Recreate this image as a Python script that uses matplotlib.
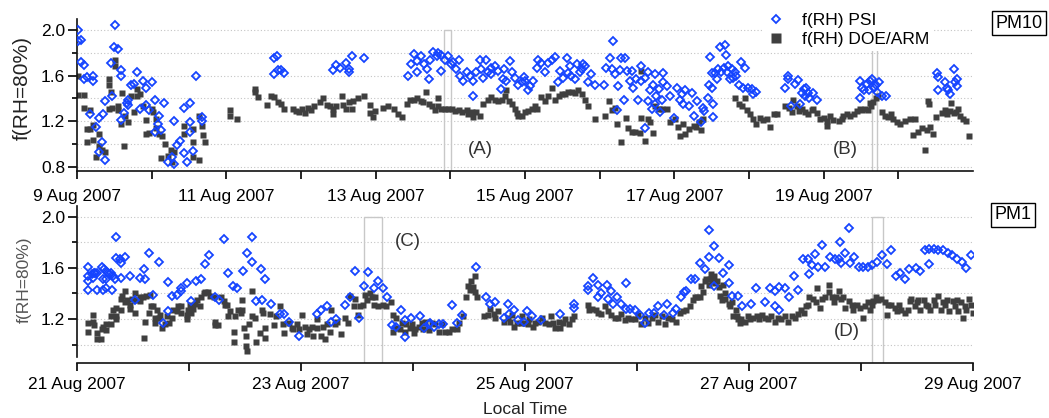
import numpy as np
import pandas as pd
import matplotlib
matplotlib.use("Agg")
import matplotlib.pyplot as plt
import matplotlib.dates as mdates
from matplotlib.lines import Line2D
from matplotlib.patches import Rectangle

plt.rcParams["font.family"] = ["Liberation Sans", "DejaVu Sans"]

# ---- PM10 panel, days after 9 Aug 2007 00:00 ----
pm10_start = pd.Timestamp("2007-08-09")

pm10_psi_day = [
    0.01, 0.01, 0.05, 0.05, 0.09, 0.09, 0.14, 0.22, 0.22, 0.18,
    0.26, 0.29, 0.35, 0.38, 0.34, 0.30, 0.38, 0.51, 0.50, 0.55,
    0.46, 0.47, 0.59, 0.59, 0.59, 0.63, 0.68, 0.68, 0.67, 0.72,
    0.76, 0.80, 0.84, 0.89, 0.93, 0.92, 0.97, 1.01, 1.05, 1.05,
    1.10, 1.09, 1.13, 1.17, 1.30, 1.34, 1.38, 1.43, 1.51, 1.51,
    1.51, 1.22, 1.27, 1.30, 1.43, 1.47, 1.55, 1.60, 1.68, 1.68,
    2.64, 2.68, 2.64, 2.69, 2.73, 2.77, 3.43, 3.47, 3.52, 3.60,
    3.64, 3.64, 3.68, 3.85,
    4.43, 4.47, 4.52, 4.56, 4.56, 4.61, 4.65, 4.69, 4.72, 4.73,
    4.77, 4.82, 4.84, 4.88, 4.88, 4.93, 4.97, 5.01, 5.04, 5.08,
    5.11, 5.13, 5.17, 5.22, 5.26, 5.31, 5.31, 5.35, 5.40, 5.41,
    5.44, 5.48, 5.51, 5.55, 5.60, 5.64, 5.68, 5.71, 5.75, 5.80,
    5.82, 5.87, 5.91, 5.96, 6.00, 6.04, 6.07, 6.11, 6.16, 6.18,
    6.22, 6.27, 6.31, 6.36, 6.40, 6.44, 6.47, 6.51, 6.56, 6.60,
    6.62, 6.67, 6.69, 6.74, 6.78, 6.81, 6.85, 6.89, 6.94, 5.55,
    5.72, 5.98, 6.58, 6.76,
    7.06, 7.09, 7.14, 7.18, 7.17, 7.21, 7.25, 7.27, 7.29, 7.32,
    7.34, 7.36, 7.41, 7.43, 7.44, 7.48, 7.52, 7.56, 7.56, 7.61,
    7.65, 7.65, 7.67, 7.70, 7.61, 7.72, 7.74, 7.74, 7.76, 7.79,
    7.81, 7.83, 7.85, 7.85, 7.90, 7.94, 7.99, 7.23,
    8.03, 8.08, 8.10, 8.14, 8.11, 8.19, 8.23, 8.27, 8.31, 8.36,
    8.39, 8.40, 8.45, 8.47, 8.48, 8.50, 8.51, 8.52, 8.52, 8.54,
    8.57, 8.59, 8.61, 8.63, 8.66, 8.68, 8.69, 8.70, 8.72, 8.75,
    8.77, 8.79, 8.81, 8.83, 8.86, 8.89, 8.92, 8.94, 8.99, 9.04,
    9.06, 9.10,
    9.48, 9.52, 9.52, 9.56, 9.61, 9.65, 9.68, 9.71, 9.73, 9.75,
    9.77, 9.79, 9.81, 9.86, 9.91,
    10.49, 10.49, 10.51, 10.54, 10.58, 10.61, 10.62, 10.65, 10.68, 10.70,
    10.74, 10.71, 10.78, 10.83,
    11.52, 11.53, 11.53, 11.62, 11.65, 11.66, 11.69, 11.74, 11.76, 11.78,
    11.78,
]
pm10_psi_val = [
    2.00, 1.90, 1.91, 1.72, 1.69, 1.57, 1.59, 1.60, 1.55, 1.26,
    1.15, 1.23, 1.26, 1.38, 1.02, 0.93, 0.86, 2.04, 1.85, 1.83,
    1.71, 1.42, 1.65, 1.60, 1.21, 1.27, 1.39, 1.34, 1.36, 1.52,
    1.53, 1.63, 1.31, 1.55, 1.49, 1.34, 1.30, 1.54, 1.39, 1.11,
    1.25, 1.18, 1.12, 1.36, 1.20, 0.99, 1.03, 1.32, 1.36, 1.19,
    1.11, 0.84, 0.89, 0.83, 0.92, 0.84, 0.94, 1.60, 1.24, 1.20,
    1.75, 1.77, 1.61, 1.65, 1.65, 1.62, 1.65, 1.69, 1.67, 1.71,
    1.66, 1.63, 1.77, 1.75,
    1.60, 1.70, 1.79, 1.73, 1.63, 1.77, 1.70, 1.66, 1.57, 1.74,
    1.81, 1.77, 1.80, 1.78, 1.64, 1.74, 1.77, 1.70, 1.72, 1.66,
    1.74, 1.60, 1.55, 1.63, 1.60, 1.55, 1.42, 1.63, 1.74, 1.66,
    1.58, 1.74, 1.63, 1.61, 1.68, 1.64, 1.48, 1.57, 1.55, 1.73,
    1.63, 1.58, 1.52, 1.54, 1.55, 1.47, 1.51, 1.55, 1.67, 1.74,
    1.71, 1.63, 1.71, 1.74, 1.76, 1.54, 1.64, 1.58, 1.75, 1.68,
    1.60, 1.57, 1.70, 1.63, 1.70, 1.68, 1.54, 1.61, 1.52, 1.67,
    1.66, 1.59, 1.62, 1.66,
    1.52, 1.67, 1.75, 1.90, 1.66, 1.61, 1.51, 1.65, 1.75, 1.39,
    1.75, 1.64, 1.55, 1.64, 1.49, 1.57, 1.39, 1.68, 1.55, 1.58,
    1.63, 1.38, 1.47, 1.31, 1.14, 1.52, 1.61, 1.35, 1.42, 1.48,
    1.28, 1.39, 1.62, 1.54, 1.51, 1.42, 1.23, 1.30,
    1.49, 1.39, 1.44, 1.47, 1.35, 1.33, 1.45, 1.25, 1.38, 1.19,
    1.32, 1.29, 1.40, 1.52, 1.76, 1.62, 1.49, 1.35, 1.24, 1.62,
    1.57, 1.66, 1.85, 1.63, 1.67, 1.87, 1.78, 1.63, 1.68, 1.57,
    1.66, 1.58, 1.63, 1.60, 1.52, 1.72, 1.49, 1.67, 1.49, 1.48,
    1.44, 1.46,
    1.49, 1.60, 1.57, 1.33, 1.53, 1.56, 1.35, 1.45, 1.48, 1.42,
    1.49, 1.45, 1.40, 1.45, 1.39,
    1.55, 1.40, 1.49, 1.47, 1.53, 1.47, 1.55, 1.57, 1.49, 1.52,
    1.54, 1.46, 1.42, 1.42,
    1.62, 1.59, 1.47, 1.54, 1.49, 1.47, 1.44, 1.66, 1.54, 1.57,
    1.51,
]

pm10_doe_day = [
    0.01, 0.01, 0.09, 0.09, 0.18, 0.13, 0.18, 0.13, 0.22, 0.22,
    0.26, 0.30, 0.30, 0.34, 0.38, 0.43, 0.43, 0.46, 0.43, 0.47,
    0.51, 0.51, 0.55, 0.55, 0.60, 0.59, 0.63, 0.64, 0.68,
    0.72, 0.76, 0.80, 0.81, 0.85, 0.89, 0.93, 0.92, 0.96, 1.01,
    1.02, 1.06, 1.06, 1.10, 1.14, 1.18, 1.13, 1.22, 1.27, 1.26,
    1.30, 1.43, 1.43, 1.56, 1.56, 1.56, 1.64, 1.68, 1.69, 1.64,
    1.72,
    2.05, 2.05, 2.14,
    2.39, 2.39, 2.43, 2.55, 2.60, 2.64, 2.69, 2.73, 2.77, 2.89,
    2.93, 2.97, 3.01, 3.05, 3.10, 3.14, 3.18, 3.26, 3.30, 3.35,
    3.39, 3.43, 3.43, 3.47, 3.55, 3.56, 3.60, 3.64, 3.68, 3.69,
    3.77, 3.85, 3.93, 3.93, 3.97,
    3.99, 4.10, 4.17, 4.24, 4.30, 4.35, 4.42, 4.46, 4.52, 4.56,
    4.61, 4.64, 4.68, 4.71, 4.75, 4.79, 4.84, 4.84, 4.88, 4.93,
    4.97, 5.02, 5.06, 5.11, 5.15, 5.22, 5.24, 5.29, 5.31, 5.35,
    5.40, 5.44, 5.51, 5.55, 5.60, 5.64, 5.69, 5.73, 5.75, 5.78,
    5.82, 5.86, 5.89, 5.91, 5.96, 6.00, 6.04, 6.09, 6.13, 6.16,
    6.22, 6.27, 6.31, 6.36, 6.40, 6.45, 6.49, 6.54, 6.58, 6.63,
    6.67, 6.71, 6.76, 6.80, 6.85, 6.94, 7.07, 7.12, 7.16, 7.21,
    7.23, 7.29, 7.35, 7.38, 7.43, 7.47, 7.54, 7.56, 7.56, 7.61,
    7.65, 7.67, 7.72, 7.74, 7.79, 7.83, 7.90, 7.94,
    8.01, 8.05, 8.08, 8.12, 8.14, 8.20, 8.26, 8.29, 8.33, 8.36,
    8.39, 8.81, 8.86, 8.90, 8.95, 8.97, 9.01, 9.06, 9.10, 9.15,
    9.19, 9.24, 9.28, 9.33, 9.37, 9.48, 9.53, 9.57, 9.59, 9.64,
    9.67, 9.71, 9.75, 9.79, 9.84, 9.86, 9.91, 9.95, 10.00, 10.04,
    10.04, 10.08, 10.13, 10.20, 10.24, 10.26, 10.31, 10.35, 10.40, 10.44,
    10.49, 10.51, 10.55, 10.59, 10.62, 10.64, 10.66, 10.70, 10.73, 10.78,
    10.82, 10.86, 10.90, 10.93, 10.98, 11.02, 11.09, 11.16, 11.19, 11.22,
    11.27, 11.32, 11.36, 11.39, 11.42, 11.47, 11.40, 11.41, 11.51, 11.58,
    11.63, 11.65, 11.69, 11.71, 11.74, 11.77, 11.80, 11.82, 11.86, 11.90,
    11.94,
]
pm10_doe_val = [
    1.60, 1.43, 1.43, 1.32, 1.30, 1.13, 1.13, 1.02, 1.04, 1.17,
    0.89, 1.09, 0.98, 0.95, 0.93, 1.57, 1.52, 1.46, 1.31, 1.32,
    1.74, 1.68, 1.33, 1.30, 1.45, 1.18, 0.98, 1.25, 1.19,
    1.42, 1.28, 1.48, 1.42, 1.44, 1.33, 1.21, 1.09, 1.10, 1.31,
    1.28, 1.22, 1.14, 1.09, 1.07, 1.00, 0.88, 0.90, 0.84, 0.95,
    0.93, 1.16, 1.09, 1.13, 1.02, 0.89, 0.86, 1.16, 1.08, 1.25,
    1.02,
    1.30, 1.25, 1.22,
    1.48, 1.46, 1.41, 1.34, 1.42, 1.41, 1.37, 1.35, 1.31, 1.31,
    1.29, 1.28, 1.31, 1.27, 1.32, 1.30, 1.33, 1.37, 1.40, 1.34,
    1.33, 1.31, 1.26, 1.33, 1.42, 1.34, 1.31, 1.37, 1.31, 1.38,
    1.40, 1.42, 1.34, 1.27, 1.24,
    1.29, 1.32, 1.33, 1.31, 1.26, 1.24, 1.35, 1.39, 1.39, 1.40,
    1.38, 1.37, 1.46, 1.35, 1.33, 1.30, 1.40, 1.33, 1.31, 1.31,
    1.31, 1.31, 1.29, 1.30, 1.28, 1.30, 1.26, 1.28, 1.24, 1.28,
    1.25, 1.35, 1.39, 1.41, 1.39, 1.38, 1.39, 1.42, 1.47, 1.38,
    1.35, 1.31, 1.27, 1.25, 1.25, 1.28, 1.29, 1.31, 1.33, 1.31,
    1.41, 1.38, 1.42, 1.49, 1.39, 1.42, 1.44, 1.44, 1.46, 1.46,
    1.45, 1.47, 1.44, 1.39, 1.33, 1.22, 1.25, 1.38, 1.30, 1.32,
    1.18, 1.02, 1.23, 1.14, 1.11, 1.11, 1.10, 1.23, 1.64, 1.03,
    1.22, 1.19, 1.10, 1.33, 1.31, 1.31, 1.31, 1.19,
    1.22, 1.15, 1.07, 1.18, 1.09, 1.13, 1.16, 1.15, 1.19, 1.12,
    1.22, 1.40, 1.35, 1.33, 1.40, 1.30, 1.26, 1.22, 1.18, 1.23,
    1.21, 1.22, 1.15, 1.26, 1.26, 1.33, 1.32, 1.28, 1.39, 1.33,
    1.29, 1.31, 1.28, 1.26, 1.30, 1.31, 1.27, 1.22, 1.23, 1.20,
    1.16, 1.25, 1.21, 1.20, 1.22, 1.25, 1.26, 1.25, 1.26, 1.29,
    1.31, 1.30, 1.31, 1.30, 1.36, 1.33, 1.37, 1.40, 1.42, 1.28,
    1.25, 1.24, 1.26, 1.22, 1.19, 1.18, 1.20, 1.22, 1.08, 1.22,
    1.11, 1.14, 0.95, 1.12, 1.15, 1.09, 1.38, 1.35, 1.24, 1.27,
    1.30, 1.26, 1.29, 1.36, 1.27, 1.28, 1.31, 1.25, 1.22, 1.20,
    1.07,
]

# ---- PM1 panel, days after 21 Aug 2007 00:00 ----
pm1_start = pd.Timestamp("2007-08-21")

pm1_psi_day = [
    0.10, 0.10, 0.10, 0.10, 0.13, 0.14, 0.15, 0.16, 0.18, 0.18,
    0.22, 0.23, 0.23, 0.24, 0.26, 0.26, 0.27, 0.29, 0.30, 0.31,
    0.32, 0.35, 0.35, 0.34, 0.38, 0.39, 0.39, 0.43, 0.47, 0.52,
    0.56, 0.60, 0.61, 0.64, 0.68, 0.73, 0.77, 0.81, 0.81, 0.85,
    0.89, 0.93, 0.93, 0.98, 1.02, 1.06, 1.11, 1.14, 1.18, 1.23,
    1.27, 1.31, 1.35, 1.39, 1.43, 1.48, 1.52, 1.56, 1.56, 1.60,
    1.65, 1.64, 1.68, 1.73, 1.81, 1.85, 1.89, 1.98, 2.14, 2.18,
    2.23, 2.27, 2.31, 2.39, 2.44, 2.48, 2.52, 2.56, 2.60, 2.65,
    2.69, 2.73, 2.77, 2.81, 2.85, 2.89, 2.93, 2.93, 2.98, 3.06,
    3.10, 3.14, 3.15, 3.19, 3.23, 3.27, 3.35, 3.39, 3.44, 3.56,
    3.65, 3.69, 3.73, 3.81, 3.85, 3.86, 3.90, 3.94, 3.99, 4.02,
    4.06, 4.14, 4.31, 4.44, 4.44, 4.56, 4.56, 4.61, 4.65, 4.65,
    4.68, 4.73, 4.74, 4.77, 4.79, 4.82, 4.86, 4.90, 4.90, 4.94,
    4.98, 5.03, 5.07, 5.11, 5.15, 5.19, 5.24, 5.27, 5.32,
    5.35, 5.39, 5.42, 5.44, 5.48, 5.52, 5.56, 5.61, 5.64, 5.64,
    5.69, 5.69, 5.73, 5.77, 5.82, 5.82, 5.85, 5.90, 5.94, 6.02,
    6.06, 6.14, 6.19, 6.23, 6.27, 6.23, 6.27, 6.32, 6.36, 6.40,
    6.44, 6.48, 6.53, 6.54, 6.56, 6.59, 6.62, 6.65, 6.68, 6.72,
    6.77, 6.80, 6.81, 6.82, 6.86, 6.89, 6.90, 6.94, 6.98, 7.02,
    7.06, 7.10, 7.14, 7.19, 7.23, 7.27, 7.31, 7.35, 7.39, 7.43,
    7.49, 7.53, 7.57, 7.61, 7.61, 7.65, 7.69, 7.73, 7.78, 7.81,
    7.86, 7.90, 7.94, 7.98,
]
pm1_psi_val = [
    1.61, 1.54, 1.50, 1.43, 1.55, 1.52, 1.56, 1.56, 1.56, 1.43,
    1.61, 1.51, 1.43, 1.59, 1.51, 1.44, 1.57, 1.55, 1.56, 1.43,
    1.54, 1.84, 1.68, 1.51, 1.67, 1.64, 1.52, 1.69, 1.54, 1.35,
    1.52, 1.59, 1.51, 1.72, 1.39, 1.65, 1.17, 1.49, 1.26, 1.38,
    1.39, 1.44, 1.42, 1.48, 1.34, 1.50, 1.51, 1.63, 1.70, 1.37,
    1.35, 1.83, 1.56, 1.46, 1.44, 1.58, 1.72, 1.84, 1.65, 1.34,
    1.35, 1.59, 1.51, 1.32, 1.24, 1.24, 1.18, 1.07, 1.24, 1.27,
    1.30, 1.18, 1.20, 1.31, 1.37, 1.58, 1.21, 1.46, 1.57, 1.44,
    1.50, 1.44, 1.37, 1.15, 1.14, 1.27, 1.06, 1.19, 1.21, 1.22,
    1.13, 1.16, 1.17, 1.14, 1.16, 1.16, 1.31, 1.17, 1.23, 1.61,
    1.37, 1.32, 1.33, 1.21, 1.32, 1.24, 1.27, 1.19, 1.18, 1.26,
    1.22, 1.19, 1.24, 1.32, 1.29, 1.46, 1.43, 1.52, 1.47, 1.37,
    1.40, 1.47, 1.36, 1.42, 1.32, 1.37, 1.32, 1.48, 1.28, 1.28,
    1.27, 1.23, 1.17, 1.25, 1.25, 1.30, 1.23, 1.32, 1.25,
    1.28, 1.37, 1.41, 1.42, 1.51, 1.51, 1.64, 1.59, 1.69, 1.90,
    1.77, 1.46, 1.68, 1.56, 1.62, 1.48, 1.38, 1.38, 1.30, 1.32,
    1.44, 1.33, 1.44, 1.42, 1.45, 1.30, 1.27, 1.44, 1.37, 1.54,
    1.43, 1.67, 1.67, 1.55, 1.62, 1.71, 1.61, 1.78, 1.61, 1.69,
    1.67, 1.67, 1.80, 1.64, 1.72, 1.91, 1.64, 1.69, 1.61, 1.61,
    1.61, 1.62, 1.65, 1.70, 1.63, 1.74, 1.54, 1.56, 1.51, 1.59,
    1.60, 1.58, 1.74, 1.63, 1.75, 1.75, 1.74, 1.74, 1.72, 1.70,
    1.67, 1.65, 1.60, 1.70,
]

pm1_doe_day = [
    0.10, 0.10, 0.14, 0.14, 0.15, 0.18, 0.18, 0.21, 0.22, 0.23,
    0.26, 0.26, 0.30, 0.30, 0.32, 0.35, 0.35, 0.35, 0.39, 0.39,
    0.40, 0.43, 0.43, 0.45, 0.47, 0.47, 0.49, 0.52, 0.52, 0.53,
    0.56, 0.56, 0.59, 0.60, 0.61, 0.62, 0.64, 0.65, 0.66, 0.68,
    0.70, 0.70, 0.71, 0.73, 0.74, 0.76, 0.79, 0.80, 0.82, 0.85,
    0.86, 0.89, 0.90, 0.93, 0.93, 0.98, 0.98, 0.99, 1.01, 1.02,
    1.04, 1.05, 1.07, 1.10, 1.11, 1.13, 1.14, 1.17, 1.19, 1.22,
    1.23, 1.23, 1.26, 1.29, 1.31, 1.32, 1.34, 1.35, 1.37, 1.40,
    1.40, 1.41, 1.44, 1.46, 1.47, 1.47, 1.49, 1.51, 1.51, 1.52,
    1.54, 1.56, 1.56, 1.59, 1.60, 1.63, 1.65, 1.66, 1.68, 1.68,
    1.72, 1.76, 1.78, 1.81, 1.84, 1.85, 1.89, 1.92, 1.93, 1.96,
    1.98, 2.01, 2.04, 2.05, 2.07, 2.10, 2.11, 2.14, 2.14, 2.18,
    2.20, 2.21, 2.23, 2.26, 2.27, 2.30, 2.32, 2.36, 2.39, 2.42,
    2.44, 2.47, 2.48, 2.51, 2.53, 2.55, 2.57, 2.59, 2.62, 2.63,
    2.65,
    2.66, 2.69, 2.73, 2.76, 2.80, 2.82, 2.82, 2.85, 2.85, 2.88,
    2.90, 2.93, 2.94, 2.97, 2.99, 3.01, 3.02, 3.05, 3.08, 3.09,
    3.11, 3.14, 3.17, 3.20, 3.23, 3.26, 3.29, 3.32, 3.35, 3.39,
    3.41, 3.45, 3.47, 3.49, 3.51, 3.52, 3.54, 3.55, 3.55, 3.57,
    3.63, 3.67, 3.69, 3.72, 3.73, 3.76, 3.81, 3.85, 3.87, 3.88,
    3.90, 3.93, 3.96, 3.97, 4.00, 4.03, 4.04, 4.07, 4.09, 4.12,
    4.15, 4.18, 4.21, 4.23, 4.25, 4.27, 4.30, 4.31, 4.34, 4.36,
    4.39, 4.42, 4.44, 4.56, 4.57, 4.60, 4.63, 4.65, 4.68, 4.71,
    4.74, 4.77, 4.80, 4.83, 4.86, 4.89, 4.92, 4.95, 4.98, 5.01,
    5.04, 5.07, 5.10, 5.13, 5.16, 5.19, 5.22, 5.25, 5.28, 5.31,
    5.35, 5.38, 5.41, 5.44, 5.47, 5.50, 5.52, 5.54, 5.56, 5.57,
    5.59, 5.61, 5.62, 5.64, 5.65, 5.66, 5.67, 5.69, 5.70, 5.71,
    5.73, 5.74, 5.76, 5.77, 5.79, 5.79, 5.82, 5.83, 5.85, 5.86,
    5.88, 5.89, 5.90, 5.92, 5.93, 5.96, 5.99, 6.01, 6.04, 6.07,
    6.09, 6.12, 6.14, 6.17, 6.20, 6.23, 6.26, 6.29, 6.32, 6.35,
    6.38, 6.41, 6.44, 6.46, 6.49, 6.51, 6.53, 6.54, 6.57, 6.60,
    6.61, 6.63, 6.65, 6.68, 6.71, 6.71, 6.74, 6.76, 6.78, 6.80,
    6.82, 6.84, 6.86, 6.89, 6.92, 6.93, 6.96, 6.99, 7.02, 7.04,
    7.06, 7.08, 7.10, 7.11, 7.13, 7.15, 7.18, 7.21, 7.23, 7.24,
    7.27, 7.30, 7.32, 7.34, 7.36, 7.39, 7.42, 7.44, 7.45, 7.48,
    7.50, 7.51, 7.53, 7.56, 7.58, 7.60, 7.62, 7.65, 7.66, 7.69,
    7.71, 7.73, 7.75, 7.77, 7.79, 7.82, 7.84, 7.86, 7.87, 7.89,
    7.91, 7.93, 7.94, 7.96, 7.98, 8.00,
]
pm1_doe_val = [
    1.17, 1.10, 1.23, 1.18, 1.15, 1.09, 1.04, 1.04, 1.12, 1.14,
    1.11, 1.16, 1.22, 1.16, 1.27, 1.29, 1.22, 1.20, 1.27, 1.36,
    1.38, 1.42, 1.33, 1.35, 1.31, 1.28, 1.36, 1.40, 1.25, 1.35,
    1.37, 1.34, 1.37, 1.05, 1.18, 1.38, 1.25, 1.39, 1.30, 1.30,
    1.21, 1.17, 1.27, 1.21, 1.23, 1.13, 1.16, 1.22, 1.17, 1.21,
    1.27, 1.26, 1.30, 1.30, 1.25, 1.23, 1.20, 1.27, 1.31, 1.25,
    1.28, 1.32, 1.35, 1.30, 1.37, 1.40, 1.41, 1.41, 1.38, 1.37,
    1.18, 1.15, 1.15, 1.37, 1.34, 1.31, 1.31, 1.22, 1.26, 1.10,
    1.02, 1.22, 1.27, 1.25, 1.35, 1.27, 1.13, 1.07, 0.99, 0.95,
    1.16, 1.22, 1.42, 1.21, 1.02, 1.09, 1.27, 1.25, 1.13, 1.05,
    1.24, 1.15, 1.22, 1.30, 1.16, 1.09, 1.17, 1.13, 1.12, 1.16,
    1.12, 1.23, 1.14, 1.08, 1.12, 1.14, 1.07, 1.13, 1.20, 1.07,
    1.14, 1.04, 1.16, 1.10, 1.27, 1.16, 1.18, 1.08, 1.21, 1.17,
    1.38, 1.30, 1.36, 1.23, 1.30, 1.31, 1.39, 1.35, 1.40, 1.37,
    1.31,
    1.37, 1.30, 1.31, 1.30, 1.33, 1.23, 1.10, 1.21, 1.13, 1.12,
    1.17, 1.10, 1.16, 1.13, 1.16, 1.09, 1.12, 1.14, 1.17, 1.12,
    1.18, 1.11, 1.17, 1.16, 1.10, 1.16, 1.10, 1.10, 1.12, 1.12,
    1.17, 1.22, 1.37, 1.46, 1.43, 1.50, 1.45, 1.54, 1.41, 1.37,
    1.22, 1.23, 1.28, 1.24, 1.21, 1.26, 1.18, 1.21, 1.18, 1.23,
    1.14, 1.17, 1.17, 1.22, 1.17, 1.16, 1.20, 1.14, 1.17, 1.18,
    1.21, 1.17, 1.16, 1.22, 1.17, 1.13, 1.18, 1.13, 1.17, 1.20,
    1.16, 1.20, 1.22, 1.31, 1.27, 1.28, 1.27, 1.25, 1.24, 1.30,
    1.26, 1.23, 1.21, 1.21, 1.24, 1.19, 1.21, 1.20, 1.20, 1.23,
    1.16, 1.21, 1.17, 1.21, 1.23, 1.18, 1.22, 1.16, 1.21, 1.20,
    1.18, 1.25, 1.26, 1.27, 1.30, 1.35, 1.37, 1.37, 1.37, 1.46,
    1.41, 1.50, 1.51, 1.47, 1.51, 1.55, 1.50, 1.54, 1.48, 1.50,
    1.45, 1.38, 1.35, 1.47, 1.40, 1.36, 1.32, 1.30, 1.33, 1.22,
    1.27, 1.22, 1.20, 1.17, 1.20, 1.18, 1.22, 1.20, 1.21, 1.22,
    1.20, 1.23, 1.21, 1.20, 1.22, 1.18, 1.21, 1.20, 1.22, 1.18,
    1.22, 1.21, 1.24, 1.27, 1.25, 1.30, 1.31, 1.37, 1.36, 1.33,
    1.44, 1.29, 1.36, 1.37, 1.41, 1.47, 1.37, 1.33, 1.37, 1.42,
    1.36, 1.37, 1.29, 1.34, 1.31, 1.27, 1.31, 1.29, 1.21, 1.30,
    1.33, 1.27, 1.31, 1.34, 1.37, 1.35, 1.36, 1.33, 1.23, 1.31,
    1.31, 1.29, 1.26, 1.31, 1.27, 1.25, 1.27, 1.34, 1.36, 1.30,
    1.33, 1.35, 1.27, 1.35, 1.31, 1.30, 1.27, 1.35, 1.31, 1.38,
    1.27, 1.33, 1.31, 1.35, 1.26, 1.34, 1.30, 1.35, 1.26, 1.33,
    1.21, 1.30, 1.27, 1.36, 1.31, 1.25,
]

# case-study windows and their labels
pm10_windows = [("2007-08-13 22:00", "2007-08-14 00:15"), ("2007-08-19 15:35", "2007-08-19 17:05")]
pm1_windows = [("2007-08-23 13:30", "2007-08-23 17:20"), ("2007-08-28 02:20", "2007-08-28 04:45")]
pm10_tags = [("(A)", "2007-08-14 09:30", 0.95), ("(B)", "2007-08-19 07:00", 0.95)]
pm1_tags = [("(C)", "2007-08-23 23:00", 1.81), ("(D)", "2007-08-27 21:00", 1.10)]

blue = "#1544ff"
grey = "#3f3f3f"
W, H = 1049, 418


def to_time(start, days):
    return start + pd.to_timedelta(np.asarray(days), unit="D")


def day_label(d):
    return f"{d.day} {d:%b %Y}"


def style_axis(ax, start, ndays, label_every, last_tick, ymin, ymax, ymajor, yminor, grid):
    ax.set_xlim(start, start + pd.Timedelta(days=ndays))
    ax.set_ylim(ymin, ymax)
    ticks = [start + pd.Timedelta(days=i) for i in range(last_tick + 1)]
    ax.set_xticks(ticks)
    ax.set_xticklabels([day_label(t) if i % label_every == 0 else "" for i, t in enumerate(ticks)])
    ax.set_yticks(ymajor)
    ax.set_yticklabels([f"{v:.1f}" for v in ymajor])
    ax.set_yticks(yminor, minor=True)
    for g in grid:
        ax.axhline(g, color="#c4c4c4", lw=0.8, ls=(0, (1, 2)), zorder=0)
    for s in ["top", "right"]:
        ax.spines[s].set_visible(False)
    for s in ["left", "bottom"]:
        ax.spines[s].set_linewidth(1.2)
        ax.spines[s].set_color("#111111")
    ax.tick_params(axis="y", which="major", direction="out", length=6.5, width=1.2, labelsize=12.5, pad=2)
    ax.tick_params(axis="y", which="minor", direction="out", length=3.5, width=1.2)
    ax.tick_params(axis="x", which="major", direction="out", length=6, width=1.2, labelsize=12.5)


def draw_windows(ax, windows, ybot, ytop):
    for t0, t1 in windows:
        x0 = mdates.date2num(pd.Timestamp(t0))
        x1 = mdates.date2num(pd.Timestamp(t1))
        ax.add_patch(Rectangle((x0, ybot), x1 - x0, ytop - ybot, fill=False,
                               ec="#c8c8c8", lw=1.0, zorder=1))


fig = plt.figure(figsize=(W / 100, H / 100), dpi=100)

ax1 = fig.add_axes([77 / W, 1 - 171 / H, 896 / W, 152.5 / H])
ax2 = fig.add_axes([77 / W, 1 - 363 / H, 896 / W, 157.5 / H])

# PM10
style_axis(ax1, pm10_start, 12, 2, 11, 0.765, 2.10, [0.8, 1.2, 1.6, 2.0], [1.0, 1.4, 1.8],
           [0.8, 1.0, 1.2, 1.4, 1.6, 1.8, 2.0])
ax1.tick_params(axis="x", pad=7)
draw_windows(ax1, pm10_windows, 0.765, 2.0)
ax1.plot(to_time(pm10_start, pm10_doe_day), pm10_doe_val, ls="none", marker="s", ms=3.8,
         mfc=grey, mec="none", zorder=2)
ax1.plot(to_time(pm10_start, pm10_psi_day), pm10_psi_val, ls="none", marker="D", ms=3.7,
         mfc="none", mec=blue, mew=1.3, zorder=3)
for txt, t, y in pm10_tags:
    ax1.text(pd.Timestamp(t), y, txt, ha="center", va="center", fontsize=13.5, color="#333333")

# PM1
style_axis(ax2, pm1_start, 8, 2, 8, 0.855, 2.09, [1.2, 1.6, 2.0], [1.0, 1.4, 1.8],
           [1.0, 1.2, 1.4, 1.6, 1.8, 2.0])
ax2.spines["left"].set_bounds(0.9, 2.09)
ax2.tick_params(axis="x", pad=4)
draw_windows(ax2, pm1_windows, 0.855, 2.0)
ax2.plot(to_time(pm1_start, pm1_doe_day), pm1_doe_val, ls="none", marker="s", ms=3.8,
         mfc=grey, mec="none", zorder=2)
ax2.plot(to_time(pm1_start, pm1_psi_day), pm1_psi_val, ls="none", marker="D", ms=3.7,
         mfc="none", mec=blue, mew=1.3, zorder=3)
for txt, t, y in pm1_tags:
    ax2.text(pd.Timestamp(t), y, txt, ha="center", va="center", fontsize=13.5, color="#333333")

# legend
handles = [
    Line2D([], [], ls="none", marker="D", ms=4.5, mfc="none", mec=blue, mew=1.3),
    Line2D([], [], ls="none", marker="s", ms=7.5, mfc=grey, mec="none"),
]
leg = ax1.legend(handles, ["f(RH) PSI", "f(RH) DOE/ARM"], loc="upper left",
                 bbox_to_anchor=(763 / W, 1 - 9 / H), bbox_transform=fig.transFigure,
                 fontsize=12.5, frameon=True, fancybox=False, borderpad=0.25,
                 handlelength=1.0, handletextpad=1.0, labelspacing=0.2, borderaxespad=0)
leg.get_frame().set_facecolor("white")
leg.get_frame().set_edgecolor("none")
leg.get_frame().set_alpha(1)
leg.set_zorder(5)

# labels and panel tags
fig.text(22 / W, 1 - 88 / H, "f(RH=80%)", rotation=90, ha="center", va="center",
         fontsize=15, color="#222222")
fig.text(24 / W, 1 - 280 / H, "f(RH=80%)", rotation=90, ha="center", va="center",
         fontsize=12.5, color="#555555")
fig.text(525 / W, 1 - 410 / H, "Local Time", ha="center", va="center", fontsize=12.5, color="#222222")
box = dict(boxstyle="square,pad=0.2", fc="white", ec="black", lw=1.0)
fig.text(1019 / W, 1 - 23 / H, "PM10", ha="center", va="center", fontsize=13, bbox=box)
fig.text(1013 / W, 1 - 215 / H, "PM1", ha="center", va="center", fontsize=13, bbox=box)

fig.savefig("out.png", dpi=100)
